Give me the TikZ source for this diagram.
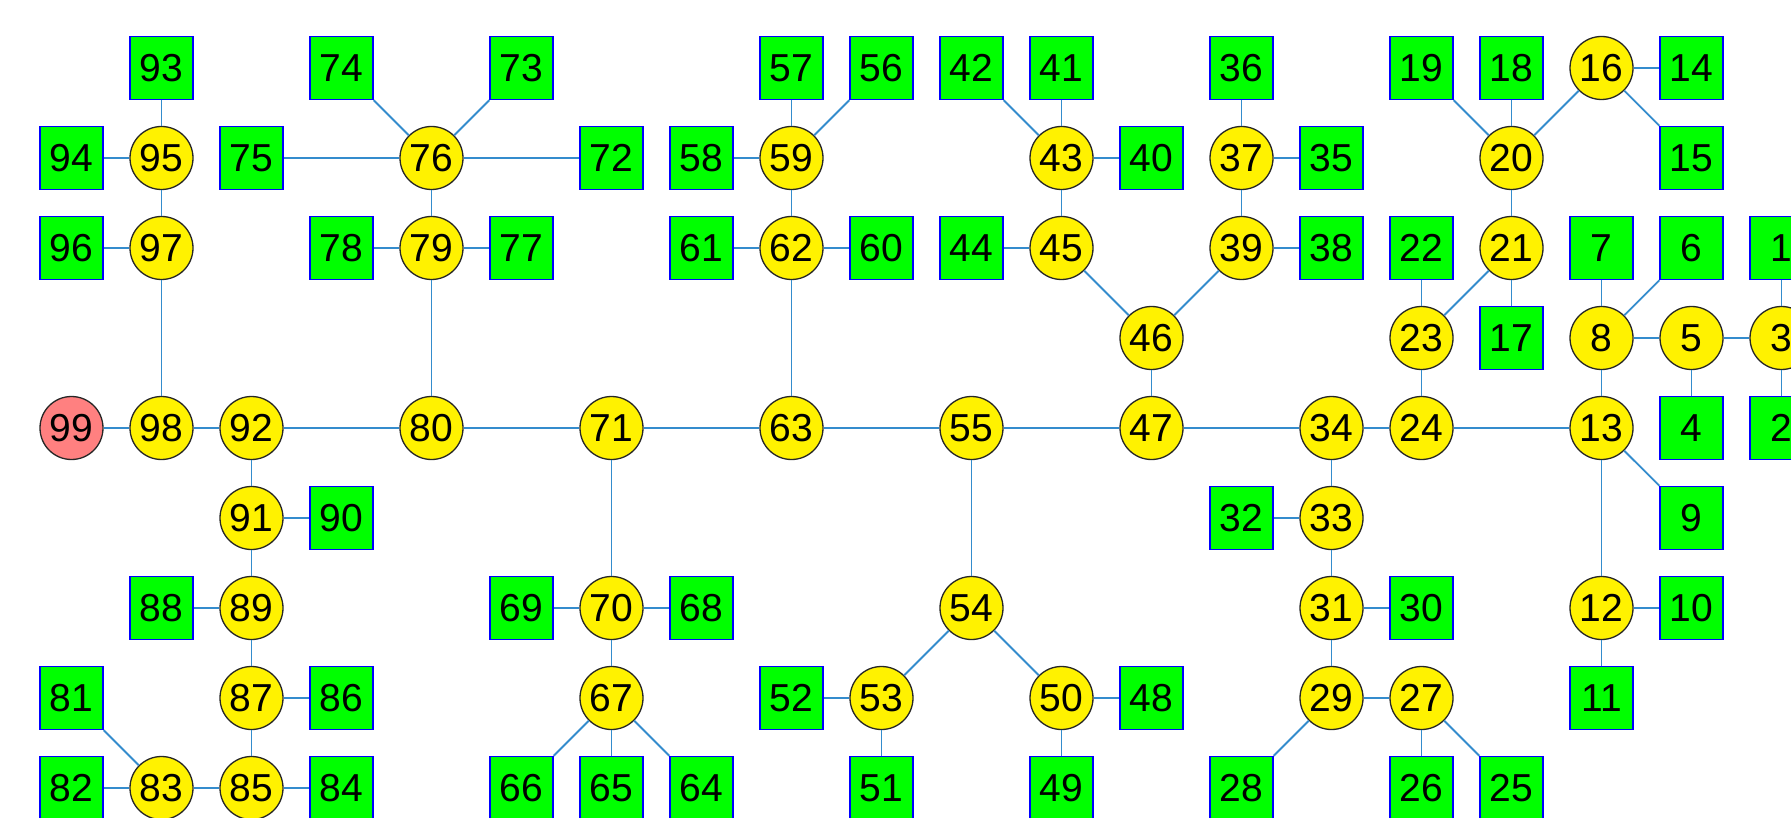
\documentclass[tikz,border=0pt]{standalone}
\usepackage{fontspec}
\setmainfont{Liberation Sans}
\begin{document}
\begin{tikzpicture}[x=1pt,y=-1pt,
  every node/.style={font=\fontsize{39}{39}\selectfont, inner sep=0pt},
  sq/.style={rectangle, draw=blue, line width=1.3pt, fill=green, minimum width=63pt, minimum height=63pt},
  ci/.style={circle, draw=black!85, line width=1.3pt, fill=yellow, minimum size=63pt},
  rc/.style={circle, draw=black!85, line width=1.3pt, fill=red!50, minimum size=63pt},
  ed/.style={draw={rgb,255:red,52;green,140;blue,205}, line width=1.8pt}]
\useasboundingbox (0,0) rectangle (1791,818);
\newcommand{\gx}[1]{71.5+90*#1}
\newcommand{\gy}[1]{68+90*#1}
% row 0
\node[sq] (n93) at ({\gx{1}},{\gy{0}}) {93};
\node[sq] (n74) at ({\gx{3}},{\gy{0}}) {74};
\node[sq] (n73) at ({\gx{5}},{\gy{0}}) {73};
\node[sq] (n57) at ({\gx{8}},{\gy{0}}) {57};
\node[sq] (n56) at ({\gx{9}},{\gy{0}}) {56};
\node[sq] (n42) at ({\gx{10}},{\gy{0}}) {42};
\node[sq] (n41) at ({\gx{11}},{\gy{0}}) {41};
\node[sq] (n36) at ({\gx{13}},{\gy{0}}) {36};
\node[sq] (n19) at ({\gx{15}},{\gy{0}}) {19};
\node[sq] (n18) at ({\gx{16}},{\gy{0}}) {18};
\node[ci] (n16) at ({\gx{17}},{\gy{0}}) {16};
\node[sq] (n14) at ({\gx{18}},{\gy{0}}) {14};
% row 1
\node[sq] (n94) at ({\gx{0}},{\gy{1}}) {94};
\node[ci] (n95) at ({\gx{1}},{\gy{1}}) {95};
\node[sq] (n75) at ({\gx{2}},{\gy{1}}) {75};
\node[ci] (n76) at ({\gx{4}},{\gy{1}}) {76};
\node[sq] (n72) at ({\gx{6}},{\gy{1}}) {72};
\node[sq] (n58) at ({\gx{7}},{\gy{1}}) {58};
\node[ci] (n59) at ({\gx{8}},{\gy{1}}) {59};
\node[ci] (n43) at ({\gx{11}},{\gy{1}}) {43};
\node[sq] (n40) at ({\gx{12}},{\gy{1}}) {40};
\node[ci] (n37) at ({\gx{13}},{\gy{1}}) {37};
\node[sq] (n35) at ({\gx{14}},{\gy{1}}) {35};
\node[ci] (n20) at ({\gx{16}},{\gy{1}}) {20};
\node[sq] (n15) at ({\gx{18}},{\gy{1}}) {15};
% row 2
\node[sq] (n96) at ({\gx{0}},{\gy{2}}) {96};
\node[ci] (n97) at ({\gx{1}},{\gy{2}}) {97};
\node[sq] (n78) at ({\gx{3}},{\gy{2}}) {78};
\node[ci] (n79) at ({\gx{4}},{\gy{2}}) {79};
\node[sq] (n77) at ({\gx{5}},{\gy{2}}) {77};
\node[sq] (n61) at ({\gx{7}},{\gy{2}}) {61};
\node[ci] (n62) at ({\gx{8}},{\gy{2}}) {62};
\node[sq] (n60) at ({\gx{9}},{\gy{2}}) {60};
\node[sq] (n44) at ({\gx{10}},{\gy{2}}) {44};
\node[ci] (n45) at ({\gx{11}},{\gy{2}}) {45};
\node[ci] (n39) at ({\gx{13}},{\gy{2}}) {39};
\node[sq] (n38) at ({\gx{14}},{\gy{2}}) {38};
\node[sq] (n22) at ({\gx{15}},{\gy{2}}) {22};
\node[ci] (n21) at ({\gx{16}},{\gy{2}}) {21};
\node[sq] (n7) at ({\gx{17}},{\gy{2}}) {7};
\node[sq] (n6) at ({\gx{18}},{\gy{2}}) {6};
\node[sq] (n1) at ({\gx{19}},{\gy{2}}) {1};
% row 3
\node[ci] (n46) at ({\gx{12}},{\gy{3}}) {46};
\node[ci] (n23) at ({\gx{15}},{\gy{3}}) {23};
\node[sq] (n17) at ({\gx{16}},{\gy{3}}) {17};
\node[ci] (n8) at ({\gx{17}},{\gy{3}}) {8};
\node[ci] (n5) at ({\gx{18}},{\gy{3}}) {5};
\node[ci] (n3) at ({\gx{19}},{\gy{3}}) {3};
% row 4
\node[rc] (n99) at ({\gx{0}},{\gy{4}}) {99};
\node[ci] (n98) at ({\gx{1}},{\gy{4}}) {98};
\node[ci] (n92) at ({\gx{2}},{\gy{4}}) {92};
\node[ci] (n80) at ({\gx{4}},{\gy{4}}) {80};
\node[ci] (n71) at ({\gx{6}},{\gy{4}}) {71};
\node[ci] (n63) at ({\gx{8}},{\gy{4}}) {63};
\node[ci] (n55) at ({\gx{10}},{\gy{4}}) {55};
\node[ci] (n47) at ({\gx{12}},{\gy{4}}) {47};
\node[ci] (n34) at ({\gx{14}},{\gy{4}}) {34};
\node[ci] (n24) at ({\gx{15}},{\gy{4}}) {24};
\node[ci] (n13) at ({\gx{17}},{\gy{4}}) {13};
\node[sq] (n4) at ({\gx{18}},{\gy{4}}) {4};
\node[sq] (n2) at ({\gx{19}},{\gy{4}}) {2};
% row 5
\node[ci] (n91) at ({\gx{2}},{\gy{5}}) {91};
\node[sq] (n90) at ({\gx{3}},{\gy{5}}) {90};
\node[sq] (n32) at ({\gx{13}},{\gy{5}}) {32};
\node[ci] (n33) at ({\gx{14}},{\gy{5}}) {33};
\node[sq] (n9) at ({\gx{18}},{\gy{5}}) {9};
% row 6
\node[sq] (n88) at ({\gx{1}},{\gy{6}}) {88};
\node[ci] (n89) at ({\gx{2}},{\gy{6}}) {89};
\node[sq] (n69) at ({\gx{5}},{\gy{6}}) {69};
\node[ci] (n70) at ({\gx{6}},{\gy{6}}) {70};
\node[sq] (n68) at ({\gx{7}},{\gy{6}}) {68};
\node[ci] (n54) at ({\gx{10}},{\gy{6}}) {54};
\node[ci] (n31) at ({\gx{14}},{\gy{6}}) {31};
\node[sq] (n30) at ({\gx{15}},{\gy{6}}) {30};
\node[ci] (n12) at ({\gx{17}},{\gy{6}}) {12};
\node[sq] (n10) at ({\gx{18}},{\gy{6}}) {10};
% row 7
\node[sq] (n81) at ({\gx{0}},{\gy{7}}) {81};
\node[ci] (n87) at ({\gx{2}},{\gy{7}}) {87};
\node[sq] (n86) at ({\gx{3}},{\gy{7}}) {86};
\node[ci] (n67) at ({\gx{6}},{\gy{7}}) {67};
\node[sq] (n52) at ({\gx{8}},{\gy{7}}) {52};
\node[ci] (n53) at ({\gx{9}},{\gy{7}}) {53};
\node[ci] (n50) at ({\gx{11}},{\gy{7}}) {50};
\node[sq] (n48) at ({\gx{12}},{\gy{7}}) {48};
\node[ci] (n29) at ({\gx{14}},{\gy{7}}) {29};
\node[ci] (n27) at ({\gx{15}},{\gy{7}}) {27};
\node[sq] (n11) at ({\gx{17}},{\gy{7}}) {11};
% row 8
\node[sq] (n82) at ({\gx{0}},{\gy{8}}) {82};
\node[ci] (n83) at ({\gx{1}},{\gy{8}}) {83};
\node[ci] (n85) at ({\gx{2}},{\gy{8}}) {85};
\node[sq] (n84) at ({\gx{3}},{\gy{8}}) {84};
\node[sq] (n66) at ({\gx{5}},{\gy{8}}) {66};
\node[sq] (n65) at ({\gx{6}},{\gy{8}}) {65};
\node[sq] (n64) at ({\gx{7}},{\gy{8}}) {64};
\node[sq] (n51) at ({\gx{9}},{\gy{8}}) {51};
\node[sq] (n49) at ({\gx{11}},{\gy{8}}) {49};
\node[sq] (n28) at ({\gx{13}},{\gy{8}}) {28};
\node[sq] (n26) at ({\gx{15}},{\gy{8}}) {26};
\node[sq] (n25) at ({\gx{16}},{\gy{8}}) {25};
% edges
\foreach \a/\b in {99/98,98/92,92/80,80/71,71/63,63/55,55/47,47/34,34/24,24/13,
  98/97,97/95,95/93,95/94,97/96,
  92/91,91/90,91/89,89/88,89/87,87/86,87/85,85/84,85/83,83/82,83/81,
  80/79,79/78,79/77,79/76,76/75,76/74,76/73,76/72,
  71/70,70/69,70/68,70/67,67/66,67/65,67/64,
  63/62,62/61,62/60,62/59,59/58,59/57,59/56,
  55/54,54/53,54/50,53/52,53/51,50/48,50/49,
  47/46,46/45,46/39,45/44,45/43,43/42,43/41,43/40,39/38,39/37,37/36,37/35,
  34/33,33/32,33/31,31/30,31/29,29/28,29/27,27/26,27/25,
  24/23,23/22,23/21,21/17,21/20,20/19,20/18,20/16,16/14,16/15,
  13/12,12/11,12/10,13/9,13/8,8/7,8/6,8/5,5/4,5/3,3/1,3/2}
  \draw[ed] (n\a) -- (n\b);
\end{tikzpicture}
\end{document}
